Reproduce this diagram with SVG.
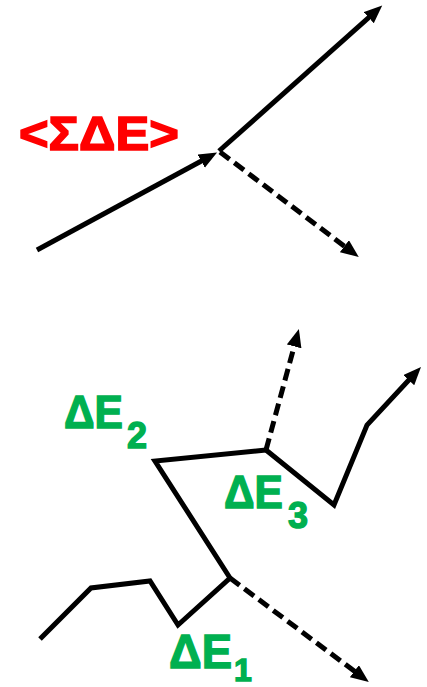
<svg xmlns="http://www.w3.org/2000/svg" width="427" height="687" viewBox="0 0 427 687">
<style>
.ln{fill:none;stroke:#000;stroke-width:5;stroke-linejoin:miter}
.ds{stroke-dasharray:12 6}
.red{fill:#FF0000;stroke:#FF0000;stroke-width:1.6;font-family:"Liberation Sans",Arial,sans-serif;font-weight:bold}
.grn{fill:#00B050;stroke:#00B050;stroke-width:1.4;font-family:"Liberation Sans",Arial,sans-serif;font-weight:bold}
</style>
<defs>
<marker id="ah" markerUnits="userSpaceOnUse" markerWidth="20" markerHeight="16" refX="7" refY="7.5" orient="auto" viewBox="0 0 20 16">
<path d="M0,0 L18,7.5 L0,15 z" fill="#000"/>
</marker>
</defs>
<g id="connectors">
<line class="ln" x1="37" y1="250" x2="207.4" y2="157.8" marker-end="url(#ah)"/>
<line class="ln" x1="219" y1="151" x2="374" y2="12.9" marker-end="url(#ah)"/>
<line class="ln ds" x1="220" y1="152" x2="350" y2="250.4" marker-end="url(#ah)"/>
<polyline class="ln" points="40,639 91,588 150,581 178,625 230,578 155,461 266,450"/>
<line class="ln ds" x1="266" y1="450" x2="296" y2="339.6" marker-end="url(#ah)"/>
<polyline class="ln" points="266,450 334,505 367,425 413.5,375" marker-end="url(#ah)"/>
<line class="ln ds" x1="230" y1="578" x2="360" y2="675.4" marker-end="url(#ah)"/>
</g>
<g id="label-sum">
<text class="red" x="19" y="150" font-size="49" textLength="160" lengthAdjust="spacingAndGlyphs">&lt;ΣΔE&gt;</text>
</g>
<g id="label-e2">
<text class="grn" x="64" y="428" font-size="46" textLength="59" lengthAdjust="spacingAndGlyphs">ΔE</text>
<text class="grn" x="127" y="448" font-size="36">2</text>
</g>
<g id="label-e3">
<text class="grn" x="224" y="508" font-size="47" textLength="59" lengthAdjust="spacingAndGlyphs">ΔE</text>
<text class="grn" x="288" y="528" font-size="36">3</text>
</g>
<g id="label-e1">
<text class="grn" x="169" y="668" font-size="48" textLength="63" lengthAdjust="spacingAndGlyphs">ΔE</text>
<text class="grn" x="234" y="681" font-size="32">1</text>
</g>
</svg>
